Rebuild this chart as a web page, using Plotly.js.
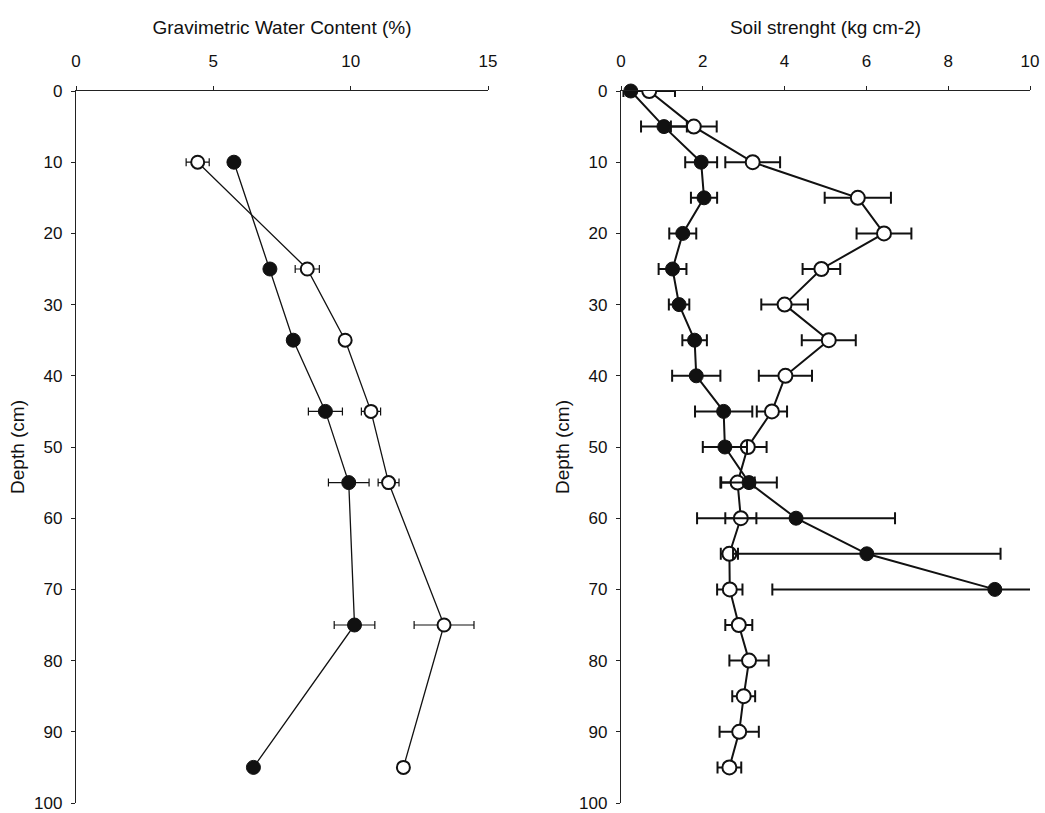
<!DOCTYPE html>
<html>
<head>
<meta charset="utf-8">
<script src="https://cdn.plot.ly/plotly-3.0.1.min.js"></script>
<style>html,body{margin:0;padding:0;background:#fff;}#chart{width:1045px;height:813px;}</style>
</head>
<body>
<div id="chart"></div>
<script>
// Left panel: gravimetric water content (%)
const gwcDepth = [10, 25, 35, 45, 55, 75, 95];
const gwcFilled = [5.75, 7.06, 7.91, 9.08, 9.93, 10.14, 6.46];
const gwcFilledErr = [0, 0, 0, 0.62, 0.74, 0.74, 0];
const gwcOpen = [4.43, 8.42, 9.80, 10.74, 11.38, 13.40, 11.92];
const gwcOpenErr = [0.42, 0.44, 0.15, 0.35, 0.38, 1.09, 0.2];

// Right panel: soil strength (kg cm-2)
const ssFilledDepth = [0, 5, 10, 15, 20, 25, 30, 35, 40, 45, 50, 55, 60, 65, 70];
const ssFilled = [0.24, 1.05, 1.96, 2.03, 1.51, 1.26, 1.42, 1.80, 1.84, 2.51, 2.54, 3.13, 4.28, 6.01, 9.14];
const ssFilledErr = [0.1, 0.56, 0.39, 0.32, 0.33, 0.34, 0.25, 0.30, 0.59, 0.70, 0.54, 0.68, 2.42, 3.27, 5.44];
const ssOpenDepth = [0, 5, 10, 15, 20, 25, 30, 35, 40, 45, 50, 55, 60, 65, 70, 75, 80, 85, 90, 95];
const ssOpen = [0.69, 1.78, 3.22, 5.79, 6.43, 4.90, 4.00, 5.08, 4.02, 3.69, 3.10, 2.85, 2.93, 2.65, 2.66, 2.88, 3.13, 3.00, 2.89, 2.65];
const ssOpenErr = [0.63, 0.56, 0.67, 0.81, 0.67, 0.46, 0.57, 0.66, 0.65, 0.37, 0.46, 0.42, 0.38, 0.21, 0.31, 0.33, 0.48, 0.28, 0.48, 0.29];

const fam = 'Liberation Sans, Arial, Helvetica, sans-serif';
const tickFont = {family: fam, size: 17, color: '#111'};
const titleFont = {family: fam, size: 19, color: '#111'};

function errObj(arr, w, t) {
  return {type: 'data', array: arr, visible: true, color: '#111', thickness: t, width: w};
}

const traces = [
  {x: gwcFilled, y: gwcDepth, xaxis: 'x', yaxis: 'y', mode: 'lines+markers', type: 'scatter',
   line: {color: '#111', width: 1.3},
   marker: {symbol: 'circle', size: 14, color: '#111', line: {color: '#111', width: 1}},
   error_x: errObj(gwcFilledErr, 4, 1.2), showlegend: false},
  {x: gwcOpen, y: gwcDepth, xaxis: 'x', yaxis: 'y', mode: 'lines+markers', type: 'scatter',
   line: {color: '#111', width: 1.3},
   marker: {symbol: 'circle', size: 13, color: '#fff', line: {color: '#111', width: 2}},
   error_x: errObj(gwcOpenErr, 4, 1.2), showlegend: false},
  {x: ssOpen, y: ssOpenDepth, xaxis: 'x2', yaxis: 'y2', mode: 'lines+markers', type: 'scatter',
   line: {color: '#111', width: 2},
   marker: {symbol: 'circle', size: 14, color: '#fff', line: {color: '#111', width: 2}},
   error_x: errObj(ssOpenErr, 6, 2), showlegend: false},
  {x: ssFilled, y: ssFilledDepth, xaxis: 'x2', yaxis: 'y2', mode: 'lines+markers', type: 'scatter',
   line: {color: '#111', width: 2}, cliponaxis: false,
   marker: {symbol: 'circle', size: 14, color: '#111', line: {color: '#111', width: 1}},
   error_x: errObj(ssFilledErr, 6, 2), showlegend: false}
];

const xCommon = {side: 'top', showline: true, linecolor: '#222', linewidth: 1.2, ticks: 'outside',
  ticklen: 4, tickcolor: '#222', showgrid: false, zeroline: false, tickfont: tickFont,
  ticklabelstandoff: 12, fixedrange: true};
const yCommon = {autorange: false, range: [100, 0], showline: true, linecolor: '#222', linewidth: 1.2,
  ticks: 'outside', ticklen: 4, tickcolor: '#222', showgrid: false, zeroline: false, tickfont: tickFont,
  dtick: 10, tick0: 0, ticklabelstandoff: 5, fixedrange: true};

const layout = {
  width: 1045, height: 813,
  margin: {l: 0, r: 0, t: 0, b: 0},
  paper_bgcolor: '#fff', plot_bgcolor: '#fff',
  font: tickFont,
  xaxis: Object.assign({}, xCommon, {domain: [76/1045, 488/1045], range: [0, 15], dtick: 5, tick0: 0,
    anchor: 'y', title: {text: 'Gravimetric Water Content (%)', font: titleFont, standoff: 12}}),
  yaxis: Object.assign({}, yCommon, {domain: [1 - 803/813, 1 - 91/813], anchor: 'x',
    title: {text: 'Depth (cm)', font: titleFont, standoff: 4}}),
  xaxis2: Object.assign({}, xCommon, {domain: [621/1045, 1030/1045], range: [0, 10], dtick: 2, tick0: 0,
    anchor: 'y2', title: {text: 'Soil strenght (kg cm-2)', font: titleFont, standoff: 12}}),
  yaxis2: Object.assign({}, yCommon, {domain: [1 - 803/813, 1 - 91/813], anchor: 'x2',
    title: {text: 'Depth (cm)', font: titleFont, standoff: 4}})
};

Plotly.newPlot('chart', traces, layout, {displayModeBar: false, staticPlot: true});
</script>
</body>
</html>
